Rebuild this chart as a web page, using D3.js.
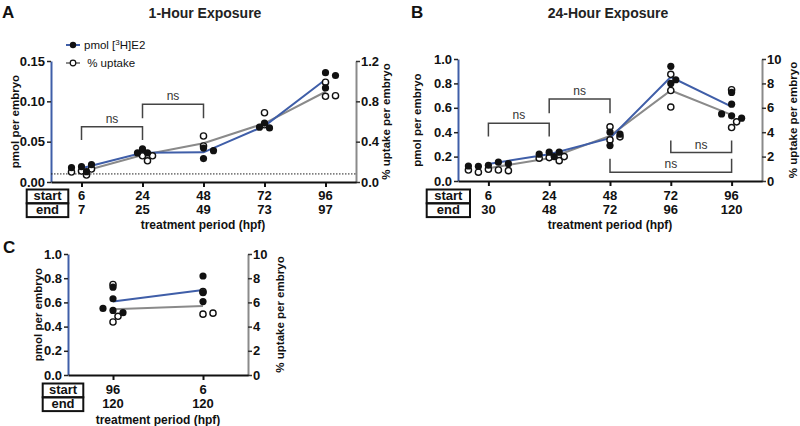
<!DOCTYPE html>
<html>
<head>
<meta charset="utf-8">
<script src="https://cdn.jsdelivr.net/npm/d3@7"></script>
<style>
  body { margin: 0; background: #fff; }
  svg { font-family: "Liberation Sans", Arial, sans-serif; }
</style>
</head>
<body>
<div id="chart"></div>
<script>
// ---- data ----
// A: 1-hour exposure
const startA = ["6", "24", "48", "72", "96"];
const endA = ["7", "25", "49", "73", "97"];
const pmolA = [[0.019, 0.0128, 0.0215, 0.0178], [0.041, 0.036, 0.036], [0.042, 0.029, 0.0388], [0.073, 0.067, 0.068], [0.1355, 0.132, 0.1166]];
const uptakeA = [[0.109, 0.069, 0.099, 0.129], [0.26, 0.21, 0.26], [0.456, 0.357], [0.687, 0.568], [0.99, 0.85, 0.856]];
const pmolMeanA = [0.017, 0.0363, 0.0368, 0.0694, 0.127];
const uptakeMeanA = [0.102, 0.268, 0.384, 0.582, 0.895];
const ticksA = [0, 0.05, 0.10, 0.15];
const ticks2A = [0, 0.4, 0.8, 1.2];

// B: 24-hour exposure
const startB = ["6", "24", "48", "72", "96"];
const endB = ["30", "48", "72", "96", "120"];
const pmolB = [[0.129, 0.154, 0.121, 0.142, 0.123], [0.236, 0.20, 0.236, 0.22], [0.40, 0.384, 0.29], [0.94, 0.80, 0.83], [0.726, 0.63, 0.534, 0.515, 0.55]];
const uptakeB = [[0.96, 0.90, 0.72, 0.85, 0.90], [1.92, 1.67, 1.87, 2.0], [4.44, 3.37, 3.62], [8.74, 7.42, 6.06], [7.48, 4.38, 4.85]];
const pmolMeanB = [0.14, 0.22, 0.351, 0.852, 0.61];
const uptakeMeanB = [1.05, 1.87, 3.7, 7.42, 5.42];
const ticksB = [0, 0.2, 0.4, 0.6, 0.8, 1.0];
const ticks2B = [0, 2, 4, 6, 8, 10];

// C
const startC = ["96", "6"];
const endC = ["120", "120"];
const pmolC = [[0.726, 0.63, 0.534, 0.515, 0.55], [0.818, 0.607, 0.68]];
const uptakeC = [[7.48, 4.38, 4.85], [6.89, 5.03, 5.11]];
const pmolMeanC = [0.607, 0.703];
const uptakeMeanC = [5.44, 5.71];

// significance brackets: [from index, to index, bar level, leg end level] (left axis units)
const bracketsA = [[0, 1, 0.0686, 0.052], [1, 2, 0.0963, 0.079]];
const bracketsB = [[0, 1, 0.474, 0.364], [1, 2, 0.672, 0.556], [3, 4, 0.233, 0.331], [2, 4, 0.0715, 0.183]];

const BLUE = "#3f5ea8", GREY = "#8a8a8a", R = 3.3, STEP = 5;

const svg = d3.select("#chart").append("svg")
    .attr("width", 800)
    .attr("height", 426);

// simple beeswarm so points in a column don't sit on top of each other
function swarm(vals, y, cx) {
    const placed = [];
    return vals.map(v => {
        const py = y(v);
        for (let k = 0; k < 30; k++) {
            const off = k === 0 ? 0 : (k % 2 ? 1 : -1) * Math.ceil(k / 2) * STEP;
            const px = cx + off;
            if (!placed.some(q => Math.hypot(q[0] - px, q[1] - py) < 2 * R - 0.5)) {
                placed.push([px, py]);
                return [px, py];
            }
        }
        return [cx, py];
    });
}

function drawPanel(p) {
    const keys = p.start.map((s, i) => s + "-" + p.end[i]);
    const x = d3.scalePoint().domain(keys).range([p.x0, p.x1]).padding(0.5);
    const y = d3.scaleLinear().domain([0, p.yMax]).range([p.bot, p.top]);
    const y2 = d3.scaleLinear().domain([0, p.y2Max]).range([p.bot, p.top]);
    const rowH = 13.8, tableFont = p.tableFont || 13;

    const g = svg.append("g");

    // left axis
    const la = g.append("g")
        .attr("transform", `translate(${p.x0},0)`)
        .call(d3.axisLeft(y).tickValues(p.ticks).tickFormat(d3.format(p.fmt)).tickSize(4).tickPadding(2).tickSizeOuter(0));
    la.select(".domain").attr("stroke", BLUE).attr("stroke-width", 2);
    la.selectAll(".tick line").attr("stroke", "#222").attr("stroke-width", 1.5);
    la.selectAll("text").attr("font-size", 13).attr("font-weight", "bold").attr("fill", "#111");

    // right axis
    const ra = g.append("g")
        .attr("transform", `translate(${p.x1},0)`)
        .call(d3.axisRight(y2).tickValues(p.ticks2).tickFormat(d3.format(p.fmt2)).tickSize(4).tickPadding(1).tickSizeOuter(0));
    ra.select(".domain").attr("stroke", GREY).attr("stroke-width", 2);
    ra.selectAll(".tick line").attr("stroke", "#333").attr("stroke-width", 1.5);
    ra.selectAll("text").attr("font-size", 13).attr("font-weight", "bold").attr("fill", "#111");

    // bottom axis
    const ba = g.append("g")
        .attr("transform", `translate(0,${p.bot})`)
        .call(d3.axisBottom(x).tickSize(5).tickFormat("").tickSizeOuter(0));
    ba.select(".domain").attr("stroke", "#111").attr("stroke-width", 2);
    ba.selectAll(".tick line").attr("stroke", "#111").attr("stroke-width", 2);

    // axis titles
    g.append("text")
        .attr("transform", `translate(${p.yLabX},${(p.top + p.bot) / 2}) rotate(-90)`)
        .attr("text-anchor", "middle").attr("dy", "0.35em")
        .attr("font-size", 11.5).attr("font-weight", "bold").attr("fill", "#111")
        .text("pmol per embryo");
    g.append("text")
        .attr("transform", `translate(${p.y2LabX},${(p.top + p.bot) / 2}) rotate(-90)`)
        .attr("text-anchor", "middle").attr("dy", "0.35em")
        .attr("font-size", 11.5).attr("font-weight", "bold").attr("fill", "#111")
        .text("% uptake per embryo");

    // start / end table
    [["start", p.tableTop, p.start], ["end", p.tableTop + rowH, p.end]].forEach(([lab, ty, vals]) => {
        g.append("rect")
            .attr("x", p.boxX0).attr("y", ty)
            .attr("width", p.boxX1 - p.boxX0).attr("height", rowH)
            .attr("fill", "none").attr("stroke", "#111").attr("stroke-width", 2);
        g.append("text")
            .attr("x", (p.boxX0 + p.boxX1) / 2).attr("y", ty + rowH - 3)
            .attr("text-anchor", "middle")
            .attr("font-size", tableFont).attr("font-weight", "bold").attr("fill", "#111")
            .text(lab);
        g.selectAll(null).data(vals).enter().append("text")
            .attr("x", (d, i) => x(keys[i]))
            .attr("y", ty + rowH - 3)
            .attr("text-anchor", "middle")
            .attr("font-size", tableFont).attr("font-weight", "bold").attr("fill", "#111")
            .text(d => d);
    });
    g.append("text")
        .attr("x", p.xLabX).attr("y", p.xLabY)
        .attr("text-anchor", "middle")
        .attr("font-size", 12).attr("font-weight", "bold").attr("fill", "#111")
        .text("treatment period (hpf)");

    // panel letter and title
    g.append("text").attr("x", p.letterX).attr("y", p.letterY)
        .attr("font-size", 17).attr("font-weight", "bold").attr("fill", "#111")
        .text(p.letter);
    if (p.title) {
        g.append("text").attr("x", p.titleX).attr("y", 18)
            .attr("text-anchor", "middle")
            .attr("font-size", 14).attr("font-weight", "bold").attr("fill", "#222")
            .text(p.title);
    }

    // detection limit line
    if (p.limit !== undefined) {
        g.append("line")
            .attr("x1", p.x0).attr("x2", p.x1)
            .attr("y1", y(p.limit)).attr("y2", y(p.limit))
            .attr("stroke", "#222").attr("stroke-width", 1).attr("stroke-dasharray", "1.5,1.5");
    }

    // brackets
    (p.brackets || []).forEach(([a, b, lvl, leg]) => {
        const xa = x(keys[a]), xb = x(keys[b]);
        g.append("path")
            .attr("d", `M${xa},${y(leg)}V${y(lvl)}H${xb}V${y(leg)}`)
            .attr("fill", "none").attr("stroke", "#444").attr("stroke-width", 1.5);
        g.append("text")
            .attr("x", (xa + xb) / 2)
            .attr("y", y(lvl) - 4)
            .attr("text-anchor", "middle")
            .attr("font-size", 12).attr("fill", "#333")
            .text("ns");
    });

    // mean lines
    const line = s => d3.line().x((d, i) => x(keys[i])).y(d => s(d));
    g.append("path").datum(p.uptakeMean)
        .attr("d", line(y2)).attr("fill", "none").attr("stroke", GREY).attr("stroke-width", 2);
    g.append("path").datum(p.pmolMean)
        .attr("d", line(y)).attr("fill", "none").attr("stroke", BLUE).attr("stroke-width", 2);

    // points
    keys.forEach((k, i) => {
        const cx = x(k);
        g.selectAll(null).data(swarm(p.uptake[i], y2, cx)).enter().append("circle")
            .attr("cx", d => d[0]).attr("cy", d => d[1]).attr("r", R - 0.2)
            .attr("fill", "#fff").attr("stroke", "#111").attr("stroke-width", 1.4);
        g.selectAll(null).data(swarm(p.pmol[i], y, cx)).enter().append("circle")
            .attr("cx", d => d[0]).attr("cy", d => d[1]).attr("r", R + 0.3)
            .attr("fill", "#111");
    });

    // legend
    if (p.legend) {
        const lg = g.append("g");
        [[BLUE, true, 45], [GREY, false, 63]].forEach(([col, filled, ly], j) => {
            lg.append("line").attr("x1", 66).attr("x2", 80).attr("y1", ly).attr("y2", ly)
                .attr("stroke", col).attr("stroke-width", 2);
            lg.append("circle").attr("cx", 73).attr("cy", ly).attr("r", filled ? 3.2 : 2.8)
                .attr("fill", filled ? "#111" : "#fff").attr("stroke", "#111").attr("stroke-width", filled ? 0 : 1.2);
            const t = lg.append("text").attr("x", 84).attr("y", ly + 4)
                .attr("font-size", 11.5).attr("fill", "#111");
            if (j === 0) {
                t.append("tspan").text("pmol [");
                t.append("tspan").attr("font-size", 8).attr("dy", -4).text("3");
                t.append("tspan").attr("dy", 4).text("H]E2");
            } else {
                t.text("\u00a0% uptake");
            }
        });
    }
}

drawPanel({
    letter: "A", letterX: 2, letterY: 18, title: "1-Hour Exposure", titleX: 205,
    start: startA, end: endA, pmol: pmolA, uptake: uptakeA, pmolMean: pmolMeanA, uptakeMean: uptakeMeanA,
    yMax: 0.15, ticks: ticksA, fmt: ".2f", y2Max: 1.2, ticks2: ticks2A, fmt2: ".1f",
    x0: 51, x1: 356, top: 61, bot: 182, yLabX: 14.5, y2LabX: 386,
    boxX0: 26.7, boxX1: 68.3, tableTop: 189.5, xLabX: 203, xLabY: 229,
    limit: 0.01, brackets: bracketsA, legend: true
});

drawPanel({
    letter: "B", letterX: 411, letterY: 18, title: "24-Hour Exposure", titleX: 608,
    start: startB, end: endB, pmol: pmolB, uptake: uptakeB, pmolMean: pmolMeanB, uptakeMean: uptakeMeanB,
    yMax: 1.0, ticks: ticksB, fmt: ".1f", y2Max: 10, ticks2: ticks2B, fmt2: "d",
    x0: 458, x1: 762, top: 59, bot: 181, yLabX: 417, y2LabX: 793,
    boxX0: 426.7, boxX1: 470, tableTop: 189.5, xLabX: 610, xLabY: 229,
    brackets: bracketsB
});

drawPanel({
    letter: "C", letterX: 3, letterY: 253,
    start: startC, end: endC, pmol: pmolC, uptake: uptakeC, pmolMean: pmolMeanC, uptakeMean: uptakeMeanC,
    yMax: 1.0, ticks: ticksB, fmt: ".1f", y2Max: 10, ticks2: ticks2B, fmt2: "d",
    x0: 68, x1: 248, top: 254, bot: 375, yLabX: 38, y2LabX: 280,
    boxX0: 42.7, boxX1: 83.3, tableTop: 383.5, xLabX: 158, xLabY: 423.5
});
</script>
</body>
</html>
